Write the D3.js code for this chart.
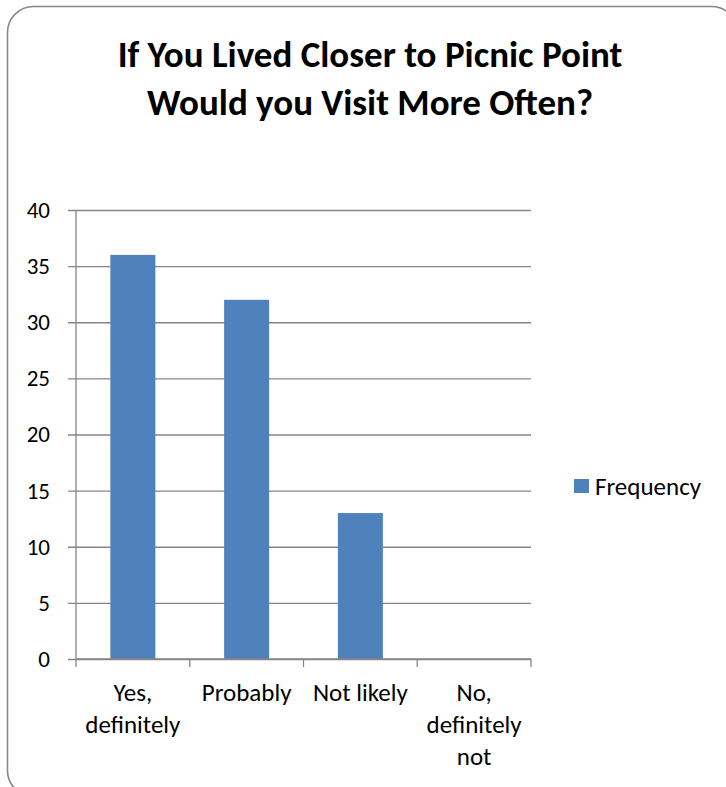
<!DOCTYPE html>
<html>
<head>
<meta charset="utf-8">
<script src="https://d3js.org/d3.v7.min.js"></script>
<style>
  html, body { margin: 0; padding: 0; background: #fff; }
  svg { display: block; font-family: Calibri, Carlito, Lato, "Open Sans", sans-serif; }
</style>
</head>
<body>
<svg id="chart" width="726" height="787"></svg>
<script>
const titleLines = ["If You Lived Closer to Picnic Point", "Would you Visit More Often?"];
const categories = [["Yes,", "definitely"], ["Probably"], ["Not likely"], ["No,", "definitely", "not"]];
const frequency = [36, 32, 13, 0];
const yTicks = [0, 5, 10, 15, 20, 25, 30, 35, 40];
const seriesName = "Frequency";

const svg = d3.select("#chart");
const gridColor = "#868686";
const fontStack = "Calibri, Carlito, Lato, 'Open Sans', sans-serif";

// outer rounded frame
svg.append("rect")
  .attr("x", 7.5).attr("y", 6.5)
  .attr("width", 730).attr("height", 790)
  .attr("rx", 26).attr("ry", 26)
  .attr("fill", "#fff")
  .attr("stroke", "#878787")
  .attr("stroke-width", 1.6);

// title
svg.append("text")
  .attr("text-anchor", "middle")
  .attr("font-weight", "bold")
  .attr("font-size", 37)
  .selectAll("tspan")
  .data(titleLines)
  .join("tspan")
  .attr("x", 370)
  .attr("y", (d, i) => 67 + i * 48)
  .text(d => d);

const x = d3.scaleBand()
  .domain(d3.range(categories.length))
  .range([76, 531])
  .paddingInner(0)
  .paddingOuter(0);

const y = d3.scaleLinear().domain([0, 40]).range([659, 210]);

// gridlines + y axis
const yAxis = d3.axisLeft(y)
  .tickValues(yTicks)
  .tickSize(-(531 - 76))
  .tickPadding(26);

const gy = svg.append("g")
  .attr("transform", "translate(76,0)")
  .call(yAxis);
gy.select(".domain").remove();
gy.selectAll(".tick line")
  .attr("x1", -8)
  .attr("stroke", gridColor)
  .attr("stroke-width", 1.3);
gy.selectAll(".tick text")
  .attr("font-size", 23)
  .attr("fill", "#000")
  .attr("font-family", fontStack);

// vertical axis line
svg.append("line")
  .attr("x1", 76).attr("x2", 76)
  .attr("y1", y(40)).attr("y2", y(0))
  .attr("stroke", gridColor).attr("stroke-width", 1.3);

// bars
const bw = 45;
svg.append("g")
  .selectAll("rect")
  .data(frequency)
  .join("rect")
  .attr("x", (d, i) => x(i) + x.bandwidth() / 2 - bw / 2)
  .attr("y", d => y(d))
  .attr("width", bw)
  .attr("height", d => y(0) - y(d))
  .attr("fill", "#4f81bd");

// x axis
const gx = svg.append("g").attr("transform", `translate(0,${y(0)})`);
gx.append("line")
  .attr("x1", 76).attr("x2", 531)
  .attr("stroke", gridColor).attr("stroke-width", 1.3);
const boundaries = d3.range(categories.length + 1).map(i => 76 + i * x.bandwidth());
gx.selectAll(".xtick")
  .data(boundaries)
  .join("line")
  .attr("class", "xtick")
  .attr("x1", d => d).attr("x2", d => d)
  .attr("y1", 0).attr("y2", 8)
  .attr("stroke", gridColor).attr("stroke-width", 1.3);

gx.selectAll(".xlab")
  .data(categories)
  .join("text")
  .attr("class", "xlab")
  .attr("text-anchor", "middle")
  .attr("font-size", 25)
  .selectAll("tspan")
  .data((d, i) => d.map(t => ({ t, i })))
  .join("tspan")
  .attr("x", d => x(d.i) + x.bandwidth() / 2)
  .attr("y", (d, j) => 42 + j * 32)
  .text(d => d.t);

// legend
const lg = svg.append("g").attr("transform", "translate(574,479)");
lg.append("rect").attr("width", 15).attr("height", 14).attr("fill", "#4f81bd");
lg.append("text")
  .attr("x", 21).attr("y", 16)
  .attr("font-size", 25)
  .text(seriesName);
</script>
</body>
</html>
